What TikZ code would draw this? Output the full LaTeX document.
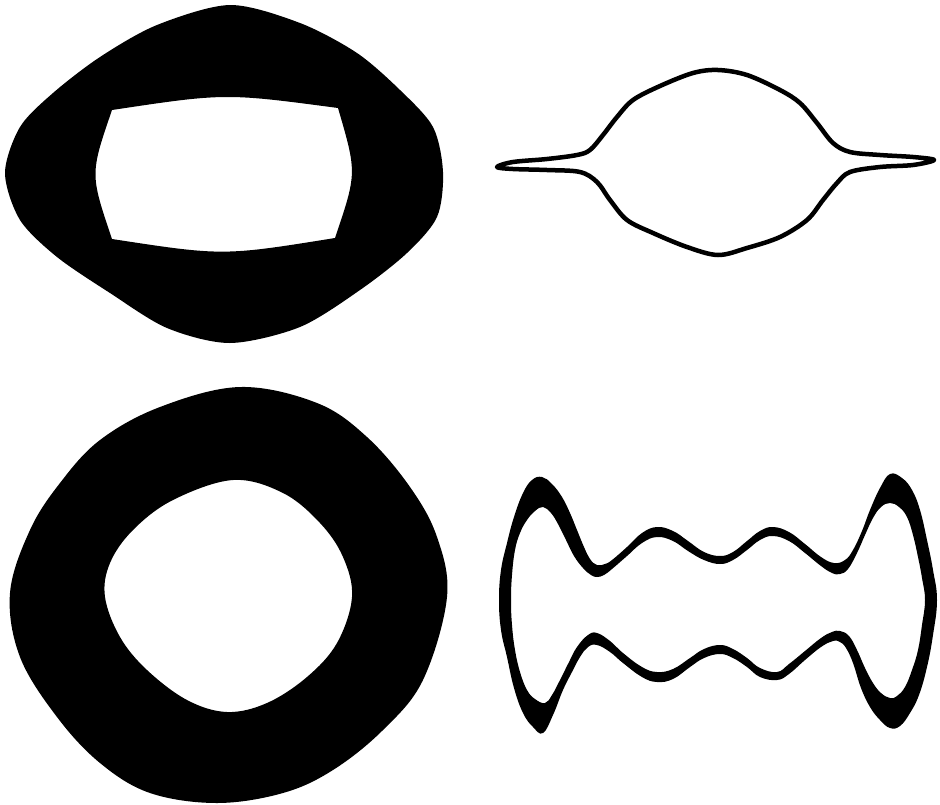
\documentclass[tikz,border=0pt]{standalone}
\begin{document}
\begin{tikzpicture}[
  x=1pt, y=-1pt,
  ink/.style={fill=black, even odd rule},
  loopline/.style={draw=black, line width=4.5pt, line join=round}]
\useasboundingbox (0,0) rectangle (940,804);
% top left: thick lozenge with a cushion-shaped hole
\fill[ink] plot[smooth cycle, tension=0.5] coordinates {
  (230,5) (300,23) (357,53) (400,90) (433,127) (443,172) (437,217) (407,253)
  (360,290) (300,327) (230,343) (167,328) (110,293) (57,257) (20,220) (5,173)
  (20,127) (53,93) (100,57) (157,25)}
  (112,110) .. controls (225,93) .. (338,108)
  .. controls (357,173) .. (335,238)
  .. controls (223,256) .. (112,239)
  .. controls (90,174) .. (112,110) -- cycle;
% top right: thin loop with two spikes
\draw[loopline] plot[smooth cycle, tension=0.55] coordinates {
  (497,167) (513,162) (547,159) (577,155) (590,150) (603,135) (617,117)
  (633,100) (660,86) (693,73) (718,70) (747,75) (780,90) (800,103) (817,123)
  (833,143) (850,152) (880,155) (913,157) (934,160) (913,165) (880,167)
  (850,172) (837,183) (823,200) (807,220) (780,237) (747,248) (718,255)
  (687,247) (653,233) (627,220) (610,200) (597,182) (580,172) (547,170)
  (513,169)};
% bottom left: thick rounded ring
\fill[ink] plot[smooth cycle, tension=0.6] coordinates {
  (240,387) (317,403) (367,437) (410,487) (437,537) (447,597) (423,680)
  (383,730) (333,770) (283,793) (217,803) (150,793) (100,763) (57,717)
  (20,657) (10,593) (30,530) (60,483) (100,440) (160,407)}
  plot[smooth cycle, tension=0.6] coordinates {
  (233,480) (283,493) (320,523) (343,557) (352,597) (337,643) (307,677)
  (267,703) (227,712) (187,700) (147,670) (120,637) (105,597) (110,563)
  (133,530) (173,500)};
% bottom right: wavy band with horns
\fill[ink] plot[smooth cycle, tension=0.7] coordinates {
  (542,477) (552,484) (562,497) (570,513) (577,530) (584,547) (590,559)
  (597,565) (605,564) (612,560) (627,547) (642,533) (657,527) (673,531)
  (688,541) (704,552) (720,556) (733,552) (747,541) (760,531) (773,527)
  (789,532) (805,544) (821,557) (834,563) (845,560) (853,550) (862,531)
  (870,510) (880,488) (890,474) (902,478) (912,490) (920,510) (927,540)
  (933,570) (937,600) (933,635) (927,667) (919,695) (910,713) (900,726)
  (890,728) (880,720) (870,707) (861,688) (853,663) (846,648) (840,642)
  (833,641) (821,647) (805,660) (789,674) (777,680) (760,677) (747,667)
  (733,658) (720,654) (704,658) (690,667) (673,679) (657,682) (642,677)
  (623,663) (610,652) (597,645) (588,647) (580,657) (572,672) (563,690)
  (553,715) (543,733) (533,727) (523,713) (514,688) (507,657) (501,630)
  (499,600) (501,570) (507,543) (514,517) (523,493) (532,480)}
  plot[smooth cycle, tension=0.7] coordinates {
  (543,507) (551,513) (558,524) (566,540) (574,556) (583,568) (591,575)
  (597,577) (604,575) (612,569) (627,556) (642,543) (657,537) (673,541)
  (688,551) (704,560) (720,564) (733,560) (747,550) (760,540) (773,536)
  (789,541) (805,553) (821,566) (832,573) (840,574) (848,569) (857,553)
  (865,535) (873,518) (881,507) (890,503) (899,507) (907,517) (913,535)
  (918,557) (922,578) (925,600) (922,625) (918,650) (912,670) (905,687)
  (897,696) (890,698) (881,693) (873,683) (865,668) (857,650) (849,636)
  (840,631) (832,632) (821,638) (805,651) (789,664) (777,672) (760,668)
  (747,658) (733,649) (720,645) (704,649) (690,658) (673,669) (657,672)
  (642,667) (623,653) (610,641) (597,633) (588,635) (577,647) (569,662)
  (560,680) (552,695) (545,703) (535,699) (527,690) (520,672) (515,650)
  (512,625) (511,600) (512,575) (515,550) (520,533) (527,520) (535,511)};
\end{tikzpicture}
\end{document}
